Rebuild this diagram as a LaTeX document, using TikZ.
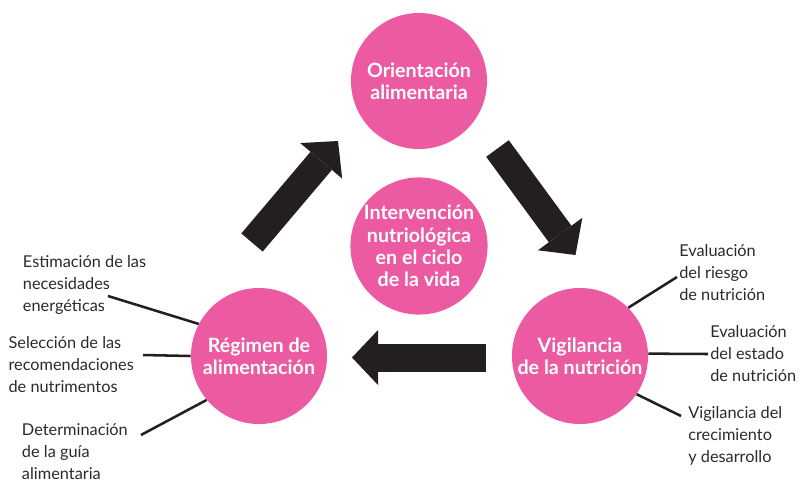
\documentclass[tikz,border=0pt]{standalone}
\usepackage{fontspec}
\setmainfont{Lato}
\usetikzlibrary{arrows.meta}

\begin{document}
\begin{tikzpicture}[x=0.025cm,y=-0.025cm,
  etapa/.style={circle,fill=cfv,text=clv,minimum size=3.4cm,inner sep=0pt,align=center,font=\bfseries\fontsize{14}{15.8}\selectfont},
  tarea/.style={anchor=base west,inner sep=0pt,align=left,text=clt,font=\fontsize{11.6}{15.8}\selectfont},
  enlace/.style={line width=1.8pt,draw=ce},
  flecha/.style={line width=0.7cm,draw=cf,-{Triangle[length=0.65cm,width=1.375cm,line width=0pt]}}]
%
\useasboundingbox (0,0) rectangle (801,483);
%
\definecolor{cfv}{RGB}{236,91,161}
\definecolor{clv}{RGB}{255,255,255}
\definecolor{clt}{RGB}{45,41,42}
\definecolor{ce}{RGB}{35,31,32}
\definecolor{cf}{RGB}{35,31,32}
%
\node[etapa] (v0) at (419,81) {Orientación\\alimentaria};
\node[etapa] (v1) at (419,246) {Intervención\\nutriológica\\en el ciclo\\de la vida};
\node[etapa] (v2) at (259,356) {Régimen de\\alimentación};
\node[etapa] (v3) at (580,356) {Vigilancia\\de la nutrición};
%
% base = baseline of the last line
\node[tarea] (t0) at (22.7,311.6) {Estimación de las\\necesidades\\energéticas};
\node[tarea] (t1) at (8.3,392.6) {Selección de las\\recomendaciones\\de nutrimentos};
\node[tarea] (t2) at (21.7,479.6) {Determinación\\de la guía\\alimentaria};
\node[tarea] (t3) at (679,300.6) {Evaluación\\del riesgo\\de nutrición};
\node[tarea] (t4) at (710,381.6) {Evaluación\\del estado\\de nutrición};
\node[tarea] (t5) at (688,462.6) {Vigilancia del\\crecimiento\\y desarrollo};
%
\coordinate (e0) at (108,296);
\coordinate (e1) at (143,355);
\coordinate (e2) at (141,435);
\coordinate (e3) at (677,277);
\coordinate (e4) at (708,354);
\coordinate (e5) at (681,416);
%
\draw[enlace] (v2.152) -- (e0);
\draw[enlace] (v2.180) -- (e1);
\draw[enlace] (v2.220) -- (e2);
\draw[enlace] (v3.45) -- (e3);
\draw[enlace] (v3.2) -- (e4);
\draw[enlace] (v3.-34) -- (e5);
%
\coordinate (a0) at (252,242.5);
\coordinate (b0) at (338,141);
\coordinate (a1) at (497.5,148.5);
\coordinate (b1) at (575.5,255);
\coordinate (a2) at (486,357.5);
\coordinate (b2) at (352,357.5);
%
\draw[flecha] (a0) -- (b0);
\draw[flecha] (a1) -- (b1);
\draw[flecha] (a2) -- (b2);
%
\end{tikzpicture}
\end{document}
